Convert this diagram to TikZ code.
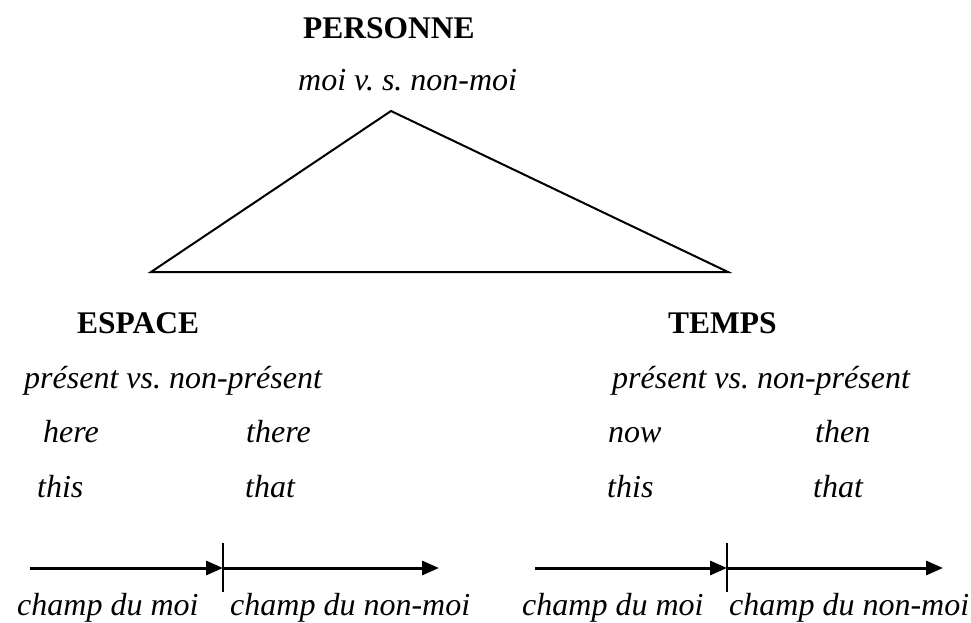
\documentclass[tikz,border=0pt]{standalone}
\usepackage{fontspec}
\setmainfont{Liberation Serif}
\usetikzlibrary{arrows.meta}
\frenchspacing
\tikzset{
  lbl/.style={inner sep=0pt, anchor=base west, font=\fontsize{32}{36}\selectfont\itshape},
  ttl/.style={inner sep=0pt, anchor=base west, font=\fontsize{31.5}{36}\selectfont\bfseries},
  tri/.style={line width=2pt, line join=miter},
  axis/.style={line width=3pt, -{Triangle[length=17pt,width=14pt]}},
  tick/.style={line width=2.2pt}
}
\begin{document}
\begin{tikzpicture}[x=1pt,y=-1pt]
\useasboundingbox (0,0) rectangle (971,623);
% top
\node[ttl] (personne) at (303,39) {PERSONNE};
\node[lbl] (moi) at (298,91) {moi v. s. non-moi};
\coordinate (apex) at (391,111);
\coordinate (lc) at (151,272);
\coordinate (rc) at (728,272);
\draw[tri] (apex) -- (lc) -- (rc) -- cycle;
% left block
\node[ttl] (espace) at (77,333) {ESPACE};
\node[lbl] (presL) at (24,388) {présent vs. non-présent};
\node[lbl] (here) at (43,442) {here};
\node[lbl] (there) at (246,442) {there};
\node[lbl] (thisL) at (37,497) {this};
\node[lbl] (thatL) at (245,497) {that};
% right block
\node[ttl] (temps) at (668,333) {TEMPS};
\node[lbl] (presR) at (612,388) {présent vs. non-présent};
\node[lbl] (now) at (608,442) {now};
\node[lbl] (then) at (815,442) {then};
\node[lbl] (thisR) at (607,497) {this};
\node[lbl] (thatR) at (813,497) {that};
% left axis
\coordinate (l0) at (30,568);
\coordinate (l1) at (223,568);
\coordinate (l2) at (439,568);
\coordinate (lt) at (223,543);
\coordinate (lb) at (223,592);
\draw[axis] (l0) -- (l1);
\draw[axis] (l1) -- (l2);
\draw[tick] (lt) -- (lb);
\node[lbl] (cmL) at (17,615) {champ du moi};
\node[lbl] (cnL) at (230,615) {champ du non-moi};
% right axis
\coordinate (r0) at (535,568);
\coordinate (r1) at (727,568);
\coordinate (r2) at (943,568);
\coordinate (rt) at (727,543);
\coordinate (rb) at (727,592);
\draw[axis] (r0) -- (r1);
\draw[axis] (r1) -- (r2);
\draw[tick] (rt) -- (rb);
\node[lbl] (cmR) at (522,615) {champ du moi};
\node[lbl] (cnR) at (729,615) {champ du non-moi};
\end{tikzpicture}
\end{document}
